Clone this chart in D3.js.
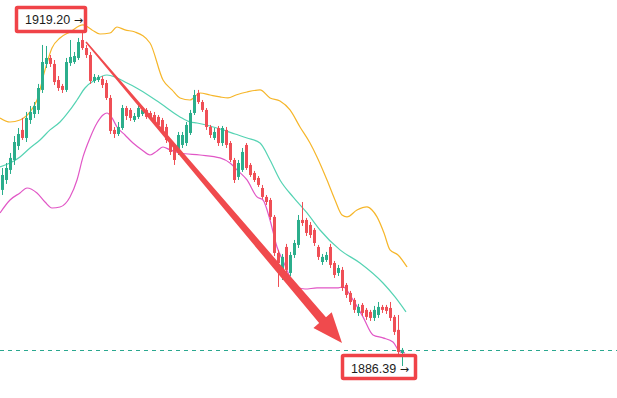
<!DOCTYPE html>
<html><head><meta charset="utf-8">
<script src="https://cdn.jsdelivr.net/npm/d3@7"></script>
<style>html,body{margin:0;padding:0;background:#fff;} svg{display:block;}</style>
</head><body>
<svg id="chart" width="617" height="398"></svg>
<script>
// ---- candle data (price) ----
const opens = [1903.74,1904.72,1905.71,1906.69,1908.07,1909.65,1908.86,1910.63,1911.22,1911.62,
1913.59,1916.15,1916.74,1916.15,1914.57,1913.98,1913.59,1916.24,1916.34,1916.74,
1918.51,1917.72,1917.03,1914.47,1914.57,1914.67,1914.27,1912.80,1909.65,1909.25,
1909.84,1911.81,1911.62,1910.63,1910.93,1911.22,1911.62,1911.32,1911.12,1910.93,
1910.63,1909.94,1908.36,1907.97,1907.48,1908.17,1908.36,1909.35,1911.32,1913.29,
1912.40,1911.62,1909.94,1908.86,1909.84,1908.36,1909.65,1908.36,1906.69,1905.02,
1905.71,1908.17,1906.20,1905.41,1904.92,1903.93,1903.05,1902.75,1901.08,1897.53,
1895.66,1898.12,1895.56,1897.33,1898.32,1900.78,1900.78,1900.29,1899.80,1898.12,
1896.64,1896.84,1898.12,1896.54,1895.56,1895.86,1894.38,1893.59,1892.90,1891.62,
1892.41,1891.92,1891.72,1891.13,1891.42,1892.21,1892.21,1892.11,1891.23,1889.95,
1887.68];
const highs = [1905.90,1906.39,1907.38,1909.05,1909.84,1910.83,1911.42,1912.01,1912.40,1914.18,
1918.02,1917.92,1917.03,1916.54,1914.96,1914.18,1916.74,1918.51,1917.33,1918.71,
1919.20,1918.02,1917.33,1915.16,1915.06,1914.96,1914.57,1913.09,1909.94,1910.43,
1912.11,1912.01,1911.81,1911.32,1912.11,1911.91,1911.81,1911.52,1911.42,1911.12,
1910.83,1910.24,1908.66,1908.17,1909.45,1909.45,1910.43,1911.62,1913.59,1913.59,
1912.60,1911.81,1910.14,1909.84,1910.04,1910.04,1909.94,1908.56,1906.89,1906.69,
1907.87,1908.36,1906.39,1905.61,1905.11,1904.23,1903.24,1902.95,1901.27,1897.83,
1897.43,1898.42,1897.63,1898.81,1901.27,1902.55,1900.98,1900.58,1899.99,1898.32,
1897.43,1897.63,1898.42,1896.74,1896.35,1896.15,1894.57,1893.79,1893.10,1892.51,
1892.60,1892.11,1891.92,1892.31,1892.70,1892.41,1892.41,1892.70,1891.42,1891.42,
1888.17];
const lows = [1903.24,1904.33,1905.31,1906.20,1907.68,1908.66,1908.46,1910.24,1910.83,1911.22,
1913.29,1915.75,1915.85,1914.08,1913.49,1913.29,1913.39,1915.95,1916.15,1916.54,
1917.53,1916.74,1914.18,1914.27,1914.37,1913.78,1912.60,1909.25,1908.86,1909.05,
1909.65,1910.63,1910.53,1910.43,1910.73,1911.02,1910.73,1910.63,1910.24,1909.94,
1909.25,1908.36,1907.18,1906.20,1907.18,1907.87,1908.07,1909.15,1911.12,1912.21,
1911.42,1909.65,1908.86,1908.66,1908.07,1908.07,1907.87,1906.49,1904.42,1904.72,
1905.51,1905.71,1905.02,1904.52,1904.03,1902.85,1902.26,1900.78,1897.23,1894.18,
1894.87,1894.87,1895.26,1897.04,1898.02,1900.19,1899.20,1899.01,1898.22,1896.84,
1896.35,1896.64,1896.05,1895.07,1895.26,1893.79,1893.10,1892.41,1891.62,1891.32,
1891.32,1890.93,1890.83,1890.83,1891.13,1891.62,1891.52,1890.83,1889.45,1887.48,
1886.39];
const closes = [1905.21,1905.90,1906.89,1908.46,1909.25,1908.86,1910.83,1911.42,1912.01,1913.78,
1916.34,1916.74,1916.15,1914.37,1913.78,1913.59,1916.34,1916.84,1916.93,1918.31,
1917.72,1917.03,1914.47,1914.87,1914.87,1914.08,1912.80,1909.55,1909.25,1909.94,
1911.81,1911.02,1910.83,1911.02,1911.81,1911.62,1910.93,1910.83,1910.43,1910.14,
1909.45,1908.66,1907.48,1906.69,1909.15,1909.15,1910.14,1911.32,1913.09,1912.40,
1911.62,1909.94,1909.15,1909.45,1908.36,1909.84,1908.17,1906.69,1904.72,1906.39,
1907.48,1905.90,1905.21,1904.72,1904.23,1903.05,1902.55,1901.08,1897.53,1896.54,
1897.14,1895.86,1897.33,1898.51,1900.78,1900.48,1899.50,1899.30,1898.51,1897.14,
1897.14,1897.33,1896.35,1895.36,1896.05,1894.08,1893.39,1892.70,1891.92,1892.21,
1891.62,1891.23,1891.13,1891.92,1892.21,1891.92,1891.82,1891.13,1889.75,1887.78,
1887.98];

// ---- Bollinger bands: [candle index, price] samples ----
const upperIdx = [-0.5,2,4.5,7,8.75,10.75,12.5,14.5,17,20.25,22.5,24.5,27,28.75,30.75,33.25,37,40.25,42.5,44.5,47,49.5,52,54.5,56.5,58.5,61.25,64.5,67,69.5,72,74.5,77,78.75,81.25,83.25,85,86.25,88.75,91.25,92.5,93.75,95.5,97,99,101.25];
const upperVals = [1910.83,1910.43,1910.63,1911.42,1912.60,1915.56,1917.72,1918.71,1919.30,1919.99,1919.50,1919.10,1919.20,1919.79,1919.50,1919.30,1918.21,1914.57,1913.59,1912.80,1912.60,1913.29,1913.09,1912.90,1912.80,1913.09,1913.39,1913.59,1912.80,1912.50,1911.62,1909.94,1908.36,1906.99,1904.72,1902.75,1901.27,1901.08,1901.76,1902.06,1901.76,1901.08,1899.50,1897.83,1897.33,1896.15];
const middleIdx = [-0.5,2,4.5,7,9.5,12,14.5,17,18.75,20.75,23.25,26.25,28.25,30.75,34.5,39.5,44.5,47,48.75,52,55.25,58.25,61.25,64.5,67,69.5,72.75,76.25,79.5,84.5,89.5,95.25,98.25,101];
const middleVals = [1906.00,1906.39,1906.99,1907.87,1908.66,1909.65,1910.43,1911.62,1912.60,1913.78,1914.57,1915.06,1914.87,1914.37,1913.59,1912.30,1910.93,1910.43,1910.33,1910.04,1909.65,1909.25,1908.86,1908.36,1906.69,1904.72,1903.05,1901.47,1899.79,1897.83,1896.54,1894.57,1893.20,1891.72];
const lowerIdx = [-0.5,2,4.5,6.25,8.75,10.75,12.5,14.5,17,18.75,20.25,22,23.75,25.25,26.25,27.5,28.75,30.75,32.75,35,37,38.75,40.25,42,44.5,49.5,54.5,57,58.75,61.25,63.75,65.25,67,68.75,70.5,72,73.75,75.75,78.75,83.75,85.25,87.75,90.25,92.75,95.25,97.75,99.5,100.75];
const lowerVals = [1901.47,1902.75,1903.44,1903.93,1903.44,1902.55,1901.96,1902.06,1903.05,1904.72,1906.99,1908.86,1910.33,1911.12,1911.32,1910.83,1909.94,1909.15,1908.36,1907.68,1907.18,1907.58,1907.97,1907.68,1907.38,1907.18,1906.89,1906.39,1905.71,1904.72,1903.05,1902.75,1900.78,1898.12,1896.54,1895.17,1894.18,1893.98,1894.08,1894.08,1894.18,1892.90,1891.23,1889.45,1889.16,1888.76,1887.78,1887.68];

// ---- annotations ----
const highLabel = "1919.20";
const lowLabel = "1886.39";
const highIndex = 20, lowIndex = 100;
const arrowFrom = [21, 1918.31];
const arrowTo = [85, 1888.66];

const W = 617, H = 398;
const svg = d3.select("#chart");
const x = d3.scaleLinear().domain([0, 100]).range([2, 402]);
const y = d3.scaleLinear().domain([1883.24, 1922.45]).range([H, 0]);

const UP = "#2bae8c", DOWN = "#ef4f56";

// bands
const line = d3.line().x(d => x(d[0])).y(d => y(d[1])).curve(d3.curveMonotoneX);
const bands = [
  [upperIdx, upperVals, "#f6b62a"],
  [middleIdx, middleVals, "#55d3b3"],
  [lowerIdx, lowerVals, "#e157c6"]
];
bands.forEach(([idx, vals, col]) => {
  svg.append("path").datum(idx.map((v, k) => [v, vals[k]]))
    .attr("d", line).attr("fill", "none").attr("stroke", col).attr("stroke-width", 1.2);
});

// candles
const candles = opens.map((o, i) => ({i, o, h: highs[i], l: lows[i], c: closes[i]}));
const g = svg.append("g");
g.selectAll("line.wick").data(candles).join("line")
  .attr("x1", d => Math.round(x(d.i)) + 0.5).attr("x2", d => Math.round(x(d.i)) + 0.5)
  .attr("y1", d => y(d.h)).attr("y2", d => y(d.l))
  .attr("stroke", d => d.c >= d.o ? UP : DOWN).attr("stroke-width", 1);
g.selectAll("rect.body").data(candles).join("rect")
  .attr("x", d => Math.round(x(d.i)) - 1)
  .attr("width", 3)
  .attr("y", d => y(Math.max(d.o, d.c)))
  .attr("height", d => Math.max(1, Math.abs(y(d.o) - y(d.c))))
  .attr("fill", d => d.c >= d.o ? UP : DOWN);

// dashed last-price line
const lastY = Math.round(y(closes[closes.length - 1])) + 0.5;
svg.append("line").attr("x1", 0).attr("x2", W).attr("y1", lastY).attr("y2", lastY)
  .attr("stroke", "#2aa88f").attr("stroke-width", 1).attr("stroke-dasharray", "4,4");

// arrow (tapered shaft + head)
(function () {
  const sx = x(arrowFrom[0]), sy = y(arrowFrom[1]);
  const tx = x(arrowTo[0]), ty = y(arrowTo[1]);
  const dx = tx - sx, dy = ty - sy, len = Math.hypot(dx, dy);
  const ux = dx / len, uy = dy / len, nx = -uy, ny = ux;
  const headLen = 30, headW = 12, w0 = 0.8, w1 = 4.5;
  const bx = tx - ux * headLen, by = ty - uy * headLen;
  const pts = [
    [sx + nx * w0, sy + ny * w0],
    [bx + nx * w1, by + ny * w1],
    [bx + nx * headW, by + ny * headW],
    [tx, ty],
    [bx - nx * headW, by - ny * headW],
    [bx - nx * w1, by - ny * w1],
    [sx - nx * w0, sy - ny * w0]
  ];
  svg.append("path").attr("d", "M" + pts.map(p => p.join(",")).join("L") + "Z")
    .attr("fill", "#f04a4d");
})();

// labels
function label(text, ax, ay, bx0, by0, bw, bh) {
  const gg = svg.append("g");
  gg.append("rect").attr("x", bx0).attr("y", by0).attr("width", bw).attr("height", bh)
    .attr("fill", "none").attr("stroke", "#f04348").attr("stroke-width", 3.5).attr("rx", 1);
  const t = gg.append("text").attr("x", bx0 + 8.5).attr("y", by0 + 17)
    .attr("font-family", "'Liberation Sans', Arial, sans-serif").attr("font-size", 12.5)
    .attr("fill", "#1c1c1c").text(text + " ");
  t.append("tspan").attr("font-size", 11).attr("font-family", "'DejaVu Sans', sans-serif").text("→");
}
const hx = x(highIndex), hy = y(highs[highIndex]);
label(highLabel, hx, hy, hx - 65.5, hy - 25.5, 69, 24);
const lx = x(lowIndex), ly = y(lows[lowIndex]);
svg.append("rect").attr("x", lx - 59.5).attr("y", ly - 10.5).attr("width", 73).attr("height", 23).attr("fill", "none");
label(lowLabel, lx, ly, lx - 59.5, ly - 10.5, 73, 23);
</script>
</body></html>
